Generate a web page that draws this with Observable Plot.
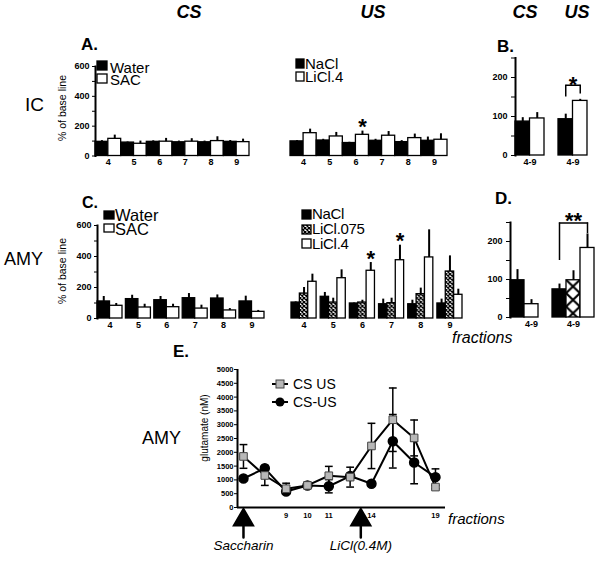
<!DOCTYPE html>
<html><head><meta charset="utf-8">
<script src="https://cdn.jsdelivr.net/npm/d3@7"></script>
<script src="https://cdn.jsdelivr.net/npm/@observablehq/plot@0.6"></script>
<style>
body{margin:0;background:#fff;}
#fig{position:relative;width:600px;height:563px;overflow:hidden;font-family:"Liberation Sans",Arial,sans-serif;color:#000;background:#fff;}
.t{position:absolute;white-space:nowrap;line-height:1;}
.lg{position:absolute;white-space:pre;}
#fig > svg{position:absolute;}
#fig path.domain{stroke-width:2;}
#fig svg [aria-label="frame"]{stroke-width:2;}
</style></head><body>
<div id="fig"></div>
<svg width="0" height="0" style="position:absolute;left:0;top:0"><defs>
<pattern id="xh" patternUnits="userSpaceOnUse" width="4" height="4"><rect width="4" height="4" fill="#fff"/><path d="M0,0L4,4M4,0L0,4" stroke="#000" stroke-width="1.3"/></pattern>
<pattern id="xhBig" patternUnits="objectBoundingBox" width="1" height="0.36" viewBox="0 0 10 10" preserveAspectRatio="none"><rect width="10" height="10" fill="#fff"/><path d="M0,0L10,10M10,0L0,10" stroke="#000" stroke-width="1.6"/></pattern>
</defs></svg>
<script>
// ---------- data ----------
const fractions = ["4", "5", "6", "7", "8", "9"];

// A. IC, CS
const icCsWater = [95, 90, 95, 92, 92, 95];
const icCsWaterSem = [8, 4, 7, 8, 8, 9];
const icCsSac = [115, 82, 96, 96, 100, 93];
const icCsSacSem = [25, 18, 22, 20, 29, 20];
// A. IC, US
const icUsNaCl = [98, 104, 87, 102, 93, 102];
const icUsNaClSem = [6, 8, 5, 10, 10, 25];
const icUsLiCl4 = [153, 131, 142, 136, 120, 109];
const icUsLiCl4Sem = [27, 27, 25, 28, 27, 40];
const icUsLiCl4Sig = ["", "", "*", "", "", ""];

// B. IC pooled 4-9
const pooledGroups = ["CS", "US"];
const pooledLabel = "4-9";
const icPooledSeries = [["Water", "SAC"], ["NaCl", "LiCl.4"]];
const icPooled = [[87, 95], [93, 140]];
const icPooledSem = [[10, 15], [13, 4]];
const icPooledBracket = {group: "US", from: "NaCl", to: "LiCl.4", level: 180, fromLow: 150, toLow: 158, label: "*"};

// C. AMY, CS
const amyCsWater = [110, 125, 118, 131, 129, 110];
const amyCsWaterSem = [32, 25, 24, 30, 23, 34];
const amyCsSac = [82, 71, 73, 64, 52, 43];
const amyCsSacSem = [15, 21, 19, 22, 12, 9];
// C. AMY, US
const amyUsNaCl = [103, 140, 97, 92, 92, 97];
const amyUsNaClSem = [4, 28, 3, 33, 26, 28];
const amyUsLiCl075 = [161, 103, 103, 99, 157, 303];
const amyUsLiCl075Sem = [39, 28, 15, 32, 39, 101];
const amyUsLiCl4 = [237, 260, 308, 376, 394, 153];
const amyUsLiCl4Sem = [49, 54, 53, 97, 178, 36];
const amyUsLiCl4Sig = ["", "", "*", "*", "", ""];

// D. AMY pooled 4-9
const amyPooledSeries = [["Water", "SAC"], ["NaCl", "LiCl.075", "LiCl.4"]];
const amyPooled = [[98, 35], [74, 98, 183]];
const amyPooledSem = [[28, 12], [14, 25, 37]];
const amyPooledBracket = {group: "US", from: "NaCl", to: "LiCl.4", level: 249, fromLow: 150, toLow: 221, label: "**"};

// E. AMY glutamate (nM)
const eFractionLabels = ["", "", "9", "10", "11", "", "14", "", "", "19"];
const csUs = [1850, 1160, 680, 800, 1150, 1100, 2230, 3180, 2520, 740];
const csUsSem = [430, 360, 200, 0, 340, 360, 820, 1150, 650, 60];
const csMinusUs = [1050, 1420, 580, 800, 770, 1140, 860, 2400, 1630, 1100];
const csMinusUsSem = [60, 90, 70, 60, 240, 0, 80, 970, 770, 300];
const eEvents = ["Saccharin", "LiCl(0.4M)"];
const eEventAt = [0, 5.5];

// ---------- helpers ----------
const FONT = '"Liberation Sans", Arial, sans-serif';
const fig = document.getElementById("fig");

function fractionRows(seriesNames, values, sems, sigs) {
  const rows = [];
  fractions.forEach((f, i) => seriesNames.forEach((s, k) => rows.push({
    group: f, series: s, slot: k, value: values[k][i], sem: sems[k][i],
    sig: sigs && sigs[k] ? sigs[k][i] : ""
  })));
  return rows;
}
function pooledRows(seriesList, values, sems, br) {
  const rows = [];
  pooledGroups.forEach((g, j) => seriesList[j].forEach((s, k) => {
    const r = {group: g, series: s, slot: k, value: values[j][k], sem: sems[j][k], sig: ""};
    if (br && br.group === g) {
      if (s === br.from) { r.bLow = br.fromLow; r.bLevel = br.level; }
      if (s === br.to) { r.bLow = br.toLow; r.bLevel = br.level; r.bLabel = br.label; }
    }
    rows.push(r);
  }));
  return rows;
}

function place(el, left, top) {
  el.style.position = "absolute";
  el.style.left = left + "px";
  el.style.top = top + "px";
  fig.appendChild(el);
}

function barPanel(o) {
  const rows = o.rows;
  const marks = [
    Plot.barY(rows, {x: "slot", y: "value", fill: "series", stroke: "#000", strokeWidth: 1.3, inset: 0}),
    Plot.ruleX(rows, {filter: d => d.sem > 0, x: "slot", y1: "value", y2: d => d.value + d.sem, stroke: "#000", strokeWidth: 2}),
    Plot.text(rows, {filter: d => d.sig, x: "slot", y: d => d.value + d.sem, text: "sig", dy: -4, fontSize: 22, fontWeight: "bold"})
  ];
  if (rows.some(d => d.bLevel != null)) {
    marks.push(
      Plot.ruleX(rows, {filter: d => d.bLevel != null, x: "slot", y1: "bLow", y2: "bLevel", stroke: "#000", strokeWidth: 1.5}),
      Plot.line(rows, {filter: d => d.bLevel != null, x: "slot", y: "bLevel", stroke: "#000", strokeWidth: 1.5}),
      Plot.text(rows, {filter: d => d.bLabel, y: "bLevel", text: "bLabel", dy: o.starDy ?? -2, fontSize: 22, fontWeight: "bold"})
    );
  }
  const svg = Plot.plot({
    width: o.w, height: o.h,
    marginLeft: o.m[0], marginRight: o.m[1], marginTop: o.m[2], marginBottom: o.m[3],
    facet: {data: rows, x: "group"},
    fx: {domain: o.groups, paddingInner: o.padInner, paddingOuter: o.padOuter, round: false,
         axis: "bottom", tickSize: 0, tickPadding: 3, label: null, tickFormat: o.fxFormat},
    x: {domain: o.slots, padding: 0, round: false, axis: null},
    y: o.showY
      ? {domain: o.yDomain, ticks: o.yTicks, tickFormat: d => d % o.yLabelEvery === 0 ? String(d) : "",
         line: true, tickSize: o.tickSize || 4, tickPadding: o.tickPadding || 2, label: null}
      : {domain: o.yDomain, axis: null},
    color: {type: "ordinal", domain: Object.keys(o.fills), range: Object.values(o.fills)},
    style: {fontFamily: FONT, fontSize: "9px", fontWeight: "bold", background: "transparent", overflow: "visible", color: "#000"},
    marks
  });
  place(svg, o.left, o.top);
}

function label(text, x, y, o = {}) {
  const el = document.createElement("div");
  el.className = "t";
  el.textContent = text;
  el.style.fontSize = (o.size || 14) + "px";
  if (o.bold) el.style.fontWeight = "bold";
  if (o.italic) el.style.fontStyle = "italic";
  el.style.left = x + "px";
  el.style.top = y + "px";
  const tx = o.anchor === "middle" ? "-50%" : "0";
  el.style.transform = `translate(${tx}, -50%)` + (o.rotate ? ` rotate(${o.rotate}deg)` : "");
  fig.appendChild(el);
}
// multi-line legend text: one text block, lines spaced by lineH (first line centred at y0)
function legendText(lines, x, y0, size, lineH, spacing) {
  const el = document.createElement("div");
  el.className = "lg";
  el.textContent = lines.join("\n");
  el.style.fontSize = size + "px";
  el.style.lineHeight = lineH + "px";
  if (spacing) el.style.letterSpacing = spacing + "px";
  el.style.left = x + "px";
  el.style.top = (y0 - lineH / 2) + "px";
  fig.appendChild(el);
}
const NS = "http://www.w3.org/2000/svg";
function swatch(x, y, w, h, fill) {
  const s = document.createElementNS(NS, "svg");
  s.setAttribute("width", w + 2); s.setAttribute("height", h + 2);
  const r = document.createElementNS(NS, "rect");
  r.setAttribute("x", 1); r.setAttribute("y", 1); r.setAttribute("width", w); r.setAttribute("height", h);
  r.setAttribute("fill", fill); r.setAttribute("stroke", "#000"); r.setAttribute("stroke-width", 1.3);
  s.appendChild(r);
  place(s, x - 1, y - 1);
}

const fillA = {Water: "#000", SAC: "#fff", NaCl: "#000", "LiCl.4": "#fff"};
const fillC = {NaCl: "#000", "LiCl.075": "url(#xh)", "LiCl.4": "#fff"};
const fillD = {Water: "#000", SAC: "#fff", NaCl: "#000", "LiCl.075": "url(#xhBig)", "LiCl.4": "#fff"};
const yTicks600 = d3.range(0, 601, 100);
const yTicks250 = d3.range(0, 251, 50);

// ---------- A. IC CS ----------
barPanel({
  rows: fractionRows(["Water", "SAC"], [icCsWater, icCsSac], [icCsWaterSem, icCsSacSem]),
  groups: fractions, slots: [0, 1], left: 0, top: 50, w: 258, h: 125, m: [88, 2, 16, 19.5],
  padInner: 0, padOuter: 0.273, showY: true, yDomain: [0, 600], yTicks: yTicks600, yLabelEvery: 200,
  tickSize: 3, tickPadding: 3, fills: fillA
});
// ---------- A. IC US ----------
barPanel({
  rows: fractionRows(["NaCl", "LiCl.4"], [icUsNaCl, icUsLiCl4], [icUsNaClSem, icUsLiCl4Sem], [null, icUsLiCl4Sig]),
  groups: fractions, slots: [0, 1], left: 280, top: 50, w: 175, h: 125, m: [10, 8, 16, 19.5],
  padInner: 0, padOuter: 0, showY: false, yDomain: [0, 600], fills: fillA
});
// ---------- B. IC pooled ----------
barPanel({
  rows: pooledRows(icPooledSeries, icPooled, icPooledSem, icPooledBracket),
  groups: pooledGroups, slots: [0, 1], left: 460, top: 40, w: 140, h: 135, m: [48, 6, 17.5, 20],
  padInner: 0.3256, padOuter: 0.163, showY: true, yDomain: [0, 250], yTicks: yTicks250, yLabelEvery: 100,
  tickSize: 4, tickPadding: 4, fxFormat: () => pooledLabel, fills: fillA, starDy: 0
});
// ---------- C. AMY CS ----------
barPanel({
  rows: fractionRows(["Water", "SAC"], [amyCsWater, amyCsSac], [amyCsWaterSem, amyCsSacSem]),
  groups: fractions, slots: [0, 1], left: 0, top: 210, w: 280, h: 132, m: [89, 8, 15, 24],
  padInner: 0.12, padOuter: 0.282, showY: true, yDomain: [0, 600], yTicks: yTicks600, yLabelEvery: 200,
  tickSize: 3, tickPadding: 3, fills: fillA
});
// ---------- C. AMY US ----------
barPanel({
  rows: fractionRows(["NaCl", "LiCl.075", "LiCl.4"], [amyUsNaCl, amyUsLiCl075, amyUsLiCl4],
    [amyUsNaClSem, amyUsLiCl075Sem, amyUsLiCl4Sem], [null, null, amyUsLiCl4Sig]),
  groups: fractions, slots: [0, 1, 2], left: 280, top: 210, w: 190, h: 132, m: [11, 8, 15, 24],
  padInner: 0.14, padOuter: 0, showY: false, yDomain: [0, 600], fills: fillC
});
// ---------- D. AMY pooled ----------
barPanel({
  rows: pooledRows(amyPooledSeries, amyPooled, amyPooledSem, amyPooledBracket),
  groups: pooledGroups, slots: [0, 1, 2], left: 460, top: 200, w: 140, h: 142, m: [48, 4, 22, 25],
  padInner: 0, padOuter: 0.0476, showY: true, yDomain: [0, 250], yTicks: yTicks250, yLabelEvery: 100,
  tickSize: 4, tickPadding: 4, fxFormat: () => pooledLabel, fills: fillD, starDy: -1.5
});

// ---------- E. glutamate ----------
const eRows = [];
csMinusUs.forEach((v, i) => eRows.push({series: "CS-US", i, value: v, sem: csMinusUsSem[i]}));
csUs.forEach((v, i) => eRows.push({series: "CS US", i, value: v, sem: csUsSem[i]}));
const eCaps = eRows.filter(d => d.sem > 0).flatMap(d => [
  {series: d.series, i: d.i, y: d.value - d.sem}, {series: d.series, i: d.i, y: d.value + d.sem}]);
const eEventRows = eEvents.map((name, k) => ({name, at: eEventAt[k]}));
const eX = [-0.28, 9.47];
const capSymbol = {draw(ctx, size) { const w = Math.sqrt(size); ctx.moveTo(-w, 0); ctx.lineTo(w, 0); }};
const isA = d => d.series === "CS US";
const isB = d => d.series === "CS-US";
const eSvg = Plot.plot({
  width: 310, height: 223, marginLeft: 87, marginRight: 15, marginTop: 29, marginBottom: 56,
  x: {domain: eX, ticks: eFractionLabels.map((l, i) => l ? i : null).filter(i => i != null),
      tickFormat: i => eFractionLabels[i], tickSize: 0, tickPadding: 5, label: null},
  y: {domain: [0, 5000], ticks: d3.range(0, 5001, 500), tickFormat: d => String(d), tickSize: 3, tickPadding: 1, label: null},
  style: {fontFamily: FONT, fontSize: "7.5px", fontWeight: "bold", background: "transparent", overflow: "visible", color: "#000"},
  marks: [
    Plot.ruleX([eX[0]], {stroke: "#000", strokeWidth: 2}),
    Plot.ruleY([0], {stroke: "#000", strokeWidth: 2}),
    Plot.ruleX(eRows, {filter: d => d.sem > 0, x: "i", y1: d => d.value - d.sem, y2: d => d.value + d.sem, stroke: "#000", strokeWidth: 1.5}),
    Plot.dot(eCaps, {x: "i", y: "y", symbol: capSymbol, r: 2.2, stroke: "#000", strokeWidth: 1.5, fill: "none"}),
    Plot.line(eRows, {filter: isB, x: "i", y: "value", stroke: "#000", strokeWidth: 2}),
    Plot.dot(eRows, {filter: isB, x: "i", y: "value", r: 4.5, fill: "#000", stroke: "#000"}),
    Plot.line(eRows, {filter: isA, x: "i", y: "value", stroke: "#000", strokeWidth: 2}),
    Plot.dot(eRows, {filter: isA, x: "i", y: "value", symbol: "square", r: 4.3, fill: "#b8b8b8", stroke: "#444", strokeWidth: 1}),
    Plot.vector(eEventRows, {x: "at", frameAnchor: "bottom", dy: 30, length: 18, rotate: 0, anchor: "start", stroke: "#000", strokeWidth: 2.5}),
    Plot.dot(eEventRows, {x: "at", frameAnchor: "bottom", dy: 12.5, symbol: "triangle", r: 7.5, fill: "#000", stroke: "#000"}),
    Plot.text(eEventRows, {x: "at", frameAnchor: "bottom", dy: 42, text: "name", fontSize: 13.5, fontStyle: "italic", fontWeight: "normal"})
  ]
});
place(eSvg, 150, 340);

// ---------- texts ----------
label("CS", 189, 12, {size: 18, bold: true, italic: true, anchor: "middle"});
label("US", 373, 12, {size: 18, bold: true, italic: true, anchor: "middle"});
label("CS", 525, 12, {size: 18, bold: true, italic: true, anchor: "middle"});
label("US", 577, 12, {size: 18, bold: true, italic: true, anchor: "middle"});
label("A.", 81, 44, {size: 17, bold: true});
label("B.", 497, 46, {size: 17, bold: true});
label("C.", 82, 203, {size: 16, bold: true});
label("D.", 495, 198, {size: 17, bold: true});
label("E.", 173, 351, {size: 17, bold: true});
label("IC", 25, 104, {size: 19});
label("AMY", 4, 259, {size: 18});
label("AMY", 142, 438, {size: 18});
label("% of base line", 62, 108, {size: 10.5, anchor: "middle", rotate: -90});
label("% of base line", 62, 271, {size: 10.5, anchor: "middle", rotate: -90});
label("glutamate (nM)", 205, 428, {size: 10, anchor: "middle", rotate: -90});
label("fractions", 452, 338, {size: 16, italic: true});
label("fractions", 448, 518, {size: 15, italic: true});

// legends
swatch(97, 61, 10, 9, "#000"); swatch(97, 74, 10, 9, "#fff");
legendText(["Water", "SAC"], 110, 67.75, 15, 12.5);
swatch(296, 59, 8, 9, "#000"); swatch(296, 72, 8, 9, "#fff");
legendText(["NaCl", "LiCl.4"], 305, 64.5, 15, 12.5);
swatch(104, 211, 10, 8, "#000"); swatch(104, 224, 10, 8, "#fff");
legendText(["Water", "SAC"], 115, 216, 16.5, 13.25);
swatch(302, 210, 9, 9, "#000"); swatch(302, 225, 9, 9, "url(#xh)"); swatch(302, 239, 9, 9, "#fff");
legendText(["NaCl", "LiCl.075", "LiCl.4"], 312, 214.5, 15, 14.75, -0.3);

// E legend
(function () {
  const s = document.createElementNS(NS, "svg");
  s.setAttribute("width", 22); s.setAttribute("height", 30);
  s.innerHTML = '<line x1="2" x2="18" y1="6" y2="6" stroke="#000" stroke-width="2"/>' +
    '<rect x="6" y="2" width="8" height="8" fill="#b8b8b8" stroke="#444"/>' +
    '<line x1="2" x2="18" y1="24" y2="24" stroke="#000" stroke-width="2"/>' +
    '<circle cx="10" cy="24" r="4.5" fill="#000"/>';
  place(s, 270, 378);
})();
legendText(["CS US", "CS-US"], 293, 384, 14, 18);
</script>
</body></html>
